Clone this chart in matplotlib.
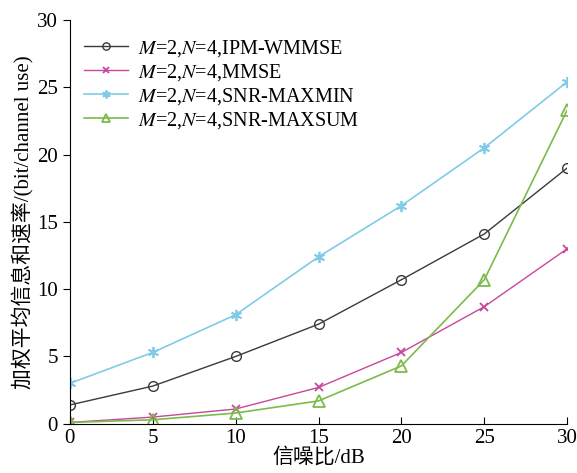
import numpy as np
import matplotlib
matplotlib.use("Agg")
import matplotlib.pyplot as plt

plt.rcParams['font.family'] = ['Liberation Serif', 'Noto Sans CJK SC']
plt.rcParams['mathtext.fontset'] = 'stix'

snr = [0, 5, 10, 15, 20, 25, 30]
ipm_wmmse = [1.4, 2.8, 5.0, 7.4, 10.7, 14.1, 19.0]
mmse = [0.1, 0.5, 1.1, 2.7, 5.3, 8.7, 13.0]
snr_maxmin = [3.0, 5.3, 8.1, 12.4, 16.2, 20.5, 25.4]
snr_maxsum = [0.1, 0.3, 0.8, 1.7, 4.3, 10.7, 23.3]

labels = [r"$M$=2,$N$=4,IPM-WMMSE", r"$M$=2,$N$=4,MMSE",
          r"$M$=2,$N$=4,SNR-MAXMIN", r"$M$=2,$N$=4,SNR-MAXSUM"]

fig = plt.figure(figsize=(5.77, 4.73), dpi=100)
ax = fig.add_axes([0.121, 0.104, 0.862, 0.854])

ax.plot(snr, ipm_wmmse, color='#3a3a3a', lw=1, marker='o', ms=7,
        mfc='none', mec='#3a3a3a', label=labels[0])
ax.plot(snr, mmse, color='#c8479b', lw=1, marker='x', ms=6, mew=1.3,
        label=labels[1])
ax.plot(snr, snr_maxmin, color='#7fcbe8', lw=1.2, marker=(6, 2, 0), ms=8,
        mew=1.3, label=labels[2])
ax.plot(snr, snr_maxsum, color='#7cbb4a', lw=1.2, marker='^', ms=8,
        mfc='none', mew=1.3, label=labels[3])

ax.set_xlim(0, 30)
ax.set_ylim(0, 30)
ax.set_xticks(range(0, 31, 5))
ax.set_yticks(range(0, 31, 5))
ax.spines['top'].set_visible(False)
ax.spines['right'].set_visible(False)
ax.tick_params(axis='x', direction='in', labelsize=15, length=5)
ax.tick_params(axis='y', direction='out', labelsize=15, length=5)

ax.set_xlabel("信噪比/dB", fontsize=15, labelpad=0)
ax.set_ylabel("加权平均信息和速率/(bit/channel use)", fontsize=15, labelpad=2)

ax.legend(loc='upper left', frameon=False, fontsize=14.5, handlelength=2.2,
          handletextpad=0.5, labelspacing=0.15, borderaxespad=0.3,
          markerscale=0.75, bbox_to_anchor=(0.0, 0.99))

fig.savefig("out.png", dpi=100)
